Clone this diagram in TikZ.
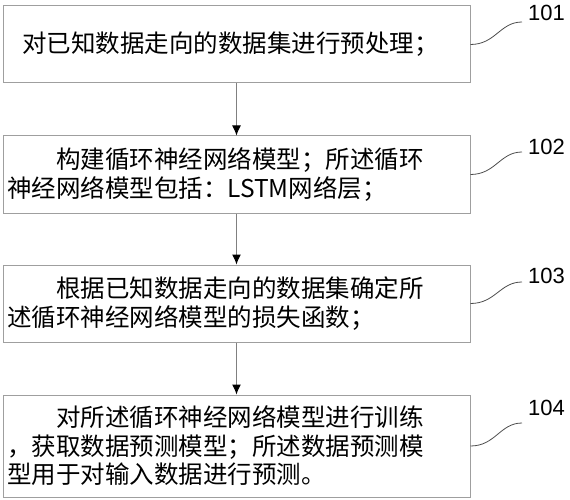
\documentclass[tikz,border=0pt]{standalone}
\usepackage{fontspec}
\newfontfamily\cjk{Noto Sans CJK SC}
\newfontfamily\arial{Liberation Sans}
\usetikzlibrary{arrows.meta}
\begin{document}
\begin{tikzpicture}[x=1pt,y=-1pt,>={Latex[length=10pt,width=9pt,color=black]},
    stepbox/.style={draw=gray!75,line width=1pt,minimum width=467pt,text width=459pt,inner xsep=4pt,align=left,font=\cjk\fontsize{24.5}{28.5}\selectfont},
    leader/.style={draw=gray!60!black,line width=0.8pt},
    tag/.style={anchor=west,inner sep=0pt,font=\arial\fontsize{22}{22}\selectfont}]
    \useasboundingbox(0,0)rectangle(570,500);
    \node[stepbox,minimum height=77pt](s1)at(236.5,44.5){\hspace*{15pt}对已知数据走向的数据集进行预处理；};
    \node[stepbox,minimum height=77pt](s2)at(236.5,174.5){\hspace*{2em}构建循环神经网络模型；所述循环\\神经网络模型包括：LSTM网络层；};
    \node[stepbox,minimum height=77pt](s3)at(236.5,303.5){\hspace*{2em}根据已知数据走向的数据集确定所\\述循环神经网络模型的损失函数；};
    \node[stepbox,minimum height=102pt](s4)at(236.5,446){\hspace*{2em}对所述循环神经网络模型进行训练\\，获取数据预测模型；所述数据预测模\\型用于对输入数据进行预测。};
    \draw[gray,line width=1pt,->](s1)--(s2);
    \draw[gray,line width=1pt,->](s2)--(s3);
    \draw[gray,line width=1pt,->](s3)--(s4);
    % step numbers
    \node[tag](t1)at(528,13){101};
    \node[tag](t2)at(528,147){102};
    \node[tag](t3)at(528,276){103};
    \node[tag](t4)at(528,408){104};
    \coordinate(e1)at(522,22);
    \coordinate(e2)at(522,152);
    \coordinate(e3)at(522,282);
    \coordinate(e4)at(522,423);
    \foreach \i in {1,...,4}
        \draw[leader](s\i.east)..controls+(25,0)and+(-22,0)..(e\i);
\end{tikzpicture}
\end{document}
